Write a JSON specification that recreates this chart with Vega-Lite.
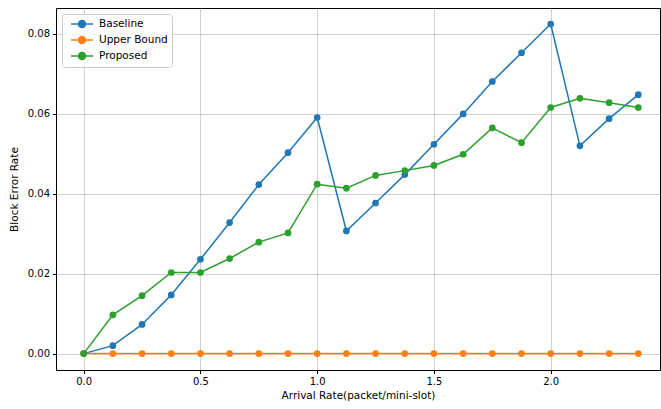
{
  "$schema": "https://vega.github.io/schema/vega-lite/v6.json",
  "autosize": {"type": "none"},
  "width": 604,
  "height": 362,
  "padding": {"left": 56, "top": 8, "right": 1, "bottom": 39},
  "background": "white",
  "config": {
    "font": "DejaVu Sans",
    "view": {"stroke": "#000000", "strokeWidth": 1},
    "axis": {
      "labelFont": "DejaVu Sans",
      "titleFont": "DejaVu Sans",
      "labelFontSize": 10,
      "titleFontSize": 10.5,
      "labelColor": "#000000",
      "titleColor": "#000000",
      "titleFontWeight": "normal",
      "tickColor": "#000000",
      "tickSize": 3.5,
      "domain": false,
      "grid": true,
      "gridColor": "#b0b0b0",
      "gridOpacity": 0.75,
      "gridWidth": 0.8
    }
  },
  "data": {
    "values": [
      {"x": 0, "y": 0, "series": "Baseline"},
      {"x": 0.125, "y": 0.002, "series": "Baseline"},
      {"x": 0.25, "y": 0.0073, "series": "Baseline"},
      {"x": 0.375, "y": 0.0147, "series": "Baseline"},
      {"x": 0.5, "y": 0.0236, "series": "Baseline"},
      {"x": 0.625, "y": 0.0328, "series": "Baseline"},
      {"x": 0.75, "y": 0.0423, "series": "Baseline"},
      {"x": 0.875, "y": 0.0503, "series": "Baseline"},
      {"x": 1.0, "y": 0.0591, "series": "Baseline"},
      {"x": 1.125, "y": 0.0307, "series": "Baseline"},
      {"x": 1.25, "y": 0.0377, "series": "Baseline"},
      {"x": 1.375, "y": 0.0448, "series": "Baseline"},
      {"x": 1.5, "y": 0.0524, "series": "Baseline"},
      {"x": 1.625, "y": 0.0600, "series": "Baseline"},
      {"x": 1.75, "y": 0.0681, "series": "Baseline"},
      {"x": 1.875, "y": 0.0753, "series": "Baseline"},
      {"x": 2.0, "y": 0.0825, "series": "Baseline"},
      {"x": 2.125, "y": 0.0520, "series": "Baseline"},
      {"x": 2.25, "y": 0.0588, "series": "Baseline"},
      {"x": 2.375, "y": 0.0648, "series": "Baseline"},
      {"x": 0, "y": 0, "series": "Upper Bound"},
      {"x": 0.125, "y": 0, "series": "Upper Bound"},
      {"x": 0.25, "y": 0, "series": "Upper Bound"},
      {"x": 0.375, "y": 0, "series": "Upper Bound"},
      {"x": 0.5, "y": 0, "series": "Upper Bound"},
      {"x": 0.625, "y": 0, "series": "Upper Bound"},
      {"x": 0.75, "y": 0, "series": "Upper Bound"},
      {"x": 0.875, "y": 0, "series": "Upper Bound"},
      {"x": 1.0, "y": 0, "series": "Upper Bound"},
      {"x": 1.125, "y": 0, "series": "Upper Bound"},
      {"x": 1.25, "y": 0, "series": "Upper Bound"},
      {"x": 1.375, "y": 0, "series": "Upper Bound"},
      {"x": 1.5, "y": 0, "series": "Upper Bound"},
      {"x": 1.625, "y": 0, "series": "Upper Bound"},
      {"x": 1.75, "y": 0, "series": "Upper Bound"},
      {"x": 1.875, "y": 0, "series": "Upper Bound"},
      {"x": 2.0, "y": 0, "series": "Upper Bound"},
      {"x": 2.125, "y": 0, "series": "Upper Bound"},
      {"x": 2.25, "y": 0, "series": "Upper Bound"},
      {"x": 2.375, "y": 0, "series": "Upper Bound"},
      {"x": 0, "y": 0, "series": "Proposed"},
      {"x": 0.125, "y": 0.0097, "series": "Proposed"},
      {"x": 0.25, "y": 0.0145, "series": "Proposed"},
      {"x": 0.375, "y": 0.0203, "series": "Proposed"},
      {"x": 0.5, "y": 0.0203, "series": "Proposed"},
      {"x": 0.625, "y": 0.0238, "series": "Proposed"},
      {"x": 0.75, "y": 0.0279, "series": "Proposed"},
      {"x": 0.875, "y": 0.0302, "series": "Proposed"},
      {"x": 1.0, "y": 0.0424, "series": "Proposed"},
      {"x": 1.125, "y": 0.0414, "series": "Proposed"},
      {"x": 1.25, "y": 0.0446, "series": "Proposed"},
      {"x": 1.375, "y": 0.0458, "series": "Proposed"},
      {"x": 1.5, "y": 0.0471, "series": "Proposed"},
      {"x": 1.625, "y": 0.0499, "series": "Proposed"},
      {"x": 1.75, "y": 0.0565, "series": "Proposed"},
      {"x": 1.875, "y": 0.0528, "series": "Proposed"},
      {"x": 2.0, "y": 0.0616, "series": "Proposed"},
      {"x": 2.125, "y": 0.0639, "series": "Proposed"},
      {"x": 2.25, "y": 0.0628, "series": "Proposed"},
      {"x": 2.375, "y": 0.0616, "series": "Proposed"}
    ]
  },
  "encoding": {
    "x": {
      "field": "x",
      "type": "quantitative",
      "scale": {"domain": [-0.1185, 2.468], "nice": false, "zero": false},
      "axis": {"values": [0, 0.5, 1.0, 1.5, 2.0], "format": ".1f", "title": "Arrival Rate(packet/mini-slot)", "titlePadding": 4, "labelPadding": 3}
    },
    "y": {
      "field": "y",
      "type": "quantitative",
      "scale": {"domain": [-0.0041, 0.0865], "nice": false, "zero": false},
      "axis": {"values": [0, 0.02, 0.04, 0.06, 0.08], "format": ".2f", "title": "Block Error Rate", "titlePadding": 8, "labelPadding": 3}
    },
    "color": {
      "field": "series",
      "type": "nominal",
      "scale": {"domain": ["Baseline", "Upper Bound", "Proposed"], "range": ["#1f77b4", "#ff7f0e", "#2ca02c"]},
      "legend": {
        "title": null,
        "orient": "none",
        "legendX": 6,
        "legendY": 6,
        "padding": 4,
        "fillColor": "rgba(255,255,255,0.8)",
        "strokeColor": "#cccccc",
        "cornerRadius": 3,
        "labelFont": "DejaVu Sans",
        "labelFontSize": 10.5,
        "labelColor": "#000000",
        "labelOffset": 11,
        "symbolOffset": 10,
        "rowPadding": 2,
        "symbolType": "M-2.2,0H2.2M-0.7,0A0.7,0.7,0,1,0,0.7,0A0.7,0.7,0,1,0,-0.7,0Z",
        "symbolSize": 100,
        "symbolStrokeWidth": 1.5,
        "symbolOpacity": 1,
        "encode": {
          "symbols": {
            "update": {
              "stroke": {"scale": "color", "field": "value"},
              "fill": {"scale": "color", "field": "value"}
            }
          }
        }
      }
    }
  },
  "layer": [
    {
      "mark": {"type": "line", "strokeWidth": 1.5}
    },
    {
      "mark": {"type": "point", "filled": true, "opacity": 1, "size": 45}
    }
  ]
}
